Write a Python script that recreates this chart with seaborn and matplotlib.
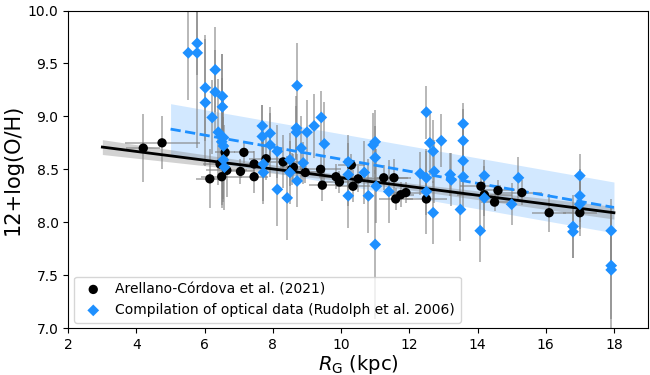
import numpy as np
import matplotlib
matplotlib.use("Agg")
import matplotlib.pyplot as plt
import seaborn as sns

# Arellano-Cordova et al. (2021)
ac_r = [4.2, 4.75, 6.15, 6.5, 6.45, 6.6, 6.65, 7.05, 7.15, 7.45, 7.45, 7.8, 8.3, 8.55,
        8.6, 8.95, 9.4, 9.45, 9.85, 9.95, 10.3, 10.35, 10.5, 11.25, 11.55, 11.6, 11.75,
        11.9, 12.5, 14.1, 14.2, 14.5, 14.6, 15.3, 16.1, 17.0]
ac_oh = [8.70, 8.75, 8.41, 8.43, 8.55, 8.66, 8.49, 8.48, 8.66, 8.55, 8.43, 8.60, 8.57, 8.50,
         8.52, 8.47, 8.50, 8.35, 8.43, 8.38, 8.54, 8.34, 8.41, 8.42, 8.42, 8.22, 8.26,
         8.28, 8.22, 8.34, 8.26, 8.19, 8.30, 8.28, 8.09, 8.09]
ac_oh_err = [0.32, 0.25, 0.28, 0.30, 0.15, 0.12, 0.25, 0.12, 0.10, 0.12, 0.15, 0.20, 0.25, 0.15,
             0.12, 0.10, 0.12, 0.15, 0.12, 0.10, 0.10, 0.15, 0.12, 0.12, 0.18, 0.10, 0.12,
             0.10, 0.15, 0.12, 0.20, 0.08, 0.10, 0.12, 0.18, 0.15]
ac_r_err = [0.5, 1.1, 0.4, 0.6, 0.5, 0.3, 0.6, 0.4, 0.3, 0.4, 0.4, 0.5, 0.6, 0.5,
            0.4, 0.5, 0.6, 0.4, 0.5, 0.6, 0.4, 0.5, 0.6, 0.7, 0.5, 0.5, 0.4,
            0.5, 0.6, 0.6, 0.8, 0.4, 0.5, 0.6, 0.5, 0.5]

# Rudolph et al. (2006) compilation
ru_r = [5.52, 5.78, 5.78, 6.31, 6.02, 6.31, 6.02, 6.52, 6.52, 6.22, 6.40, 6.55, 6.50, 6.55,
        6.55, 6.58, 7.69, 7.69, 7.92, 7.92, 8.13, 7.72, 7.72, 8.13, 8.42, 8.71, 8.69, 8.69,
        8.83, 8.89, 8.50, 8.50, 8.71, 9.00, 9.21, 9.42, 9.51, 10.21, 10.21, 10.21, 10.68,
        10.80, 10.94, 11.00, 11.00, 11.03, 11.00, 11.40, 12.32, 12.50, 12.60, 12.70, 12.94,
        12.73, 12.50, 12.50, 12.70, 13.20, 13.23, 13.50, 13.58, 13.58, 13.58, 13.58, 14.08,
        14.20, 14.20, 15.00, 15.20, 16.80, 16.80, 17.00, 17.00, 17.00, 17.92, 17.92, 17.92]
ru_oh = [9.60, 9.69, 9.60, 9.44, 9.27, 9.23, 9.13, 9.19, 9.09, 8.99, 8.85, 8.80, 8.76, 8.72,
         8.59, 8.52, 8.91, 8.81, 8.84, 8.73, 8.67, 8.55, 8.47, 8.31, 8.23, 9.29, 8.89, 8.85,
         8.70, 8.56, 8.59, 8.47, 8.39, 8.85, 8.91, 8.99, 8.74, 8.57, 8.45, 8.25, 8.47,
         8.25, 8.73, 8.76, 8.61, 8.34, 7.79, 8.29, 8.46, 9.04, 8.75, 8.67, 8.77,
         8.48, 8.42, 8.29, 8.09, 8.45, 8.40, 8.12, 8.93, 8.77, 8.58, 8.43, 7.92,
         8.44, 8.23, 8.17, 8.42, 7.96, 7.91, 8.44, 8.25, 8.17, 7.92, 7.59, 7.55]
ru_oh_err = [0.45, 0.30, 0.90, 0.40, 0.50, 0.40, 0.60, 0.40, 0.50, 0.35, 0.50, 0.40, 0.60, 0.50,
             0.40, 0.40, 0.20, 0.30, 0.25, 0.30, 0.25, 0.35, 0.30, 0.35, 0.40, 0.40, 0.30, 0.25,
             0.30, 0.20, 0.25, 0.30, 0.25, 0.30, 0.30, 0.25, 0.40, 0.25, 0.30, 0.30, 0.30,
             0.35, 0.30, 0.30, 0.30, 0.35, 0.70, 0.30, 0.20, 0.25, 0.30, 0.30, 0.25,
             0.30, 0.25, 0.40, 0.30, 0.20, 0.25, 0.30, 0.20, 0.30, 0.30, 0.30, 0.30,
             0.15, 0.30, 0.20, 0.20, 0.30, 0.25, 0.20, 0.25, 0.30, 0.30, 0.50, 0.60]

# fitted gradients
fit_r = [3.0, 10.5, 18.0]
ac_fit = [8.71, 8.40, 8.09]
ac_band = [0.07, 0.025, 0.06]
ru_fit_r = [5.0, 18.0]
ru_fit = [8.88, 8.14]
ru_band = [0.24, 0.24]

blue = "#1E90FF"

fig, ax = plt.subplots(figsize=(6.5, 3.75), dpi=100)
fig.subplots_adjust(left=0.105, right=0.997, top=0.972, bottom=0.125)

# bands and lines
rb = np.array(ru_band)
ax.fill_between(ru_fit_r, np.array(ru_fit) - rb, np.array(ru_fit) + rb,
                color=blue, alpha=0.2, lw=0, zorder=1)
ab = np.array(ac_band)
ax.fill_between(fit_r, np.array(ac_fit) - ab, np.array(ac_fit) + ab,
                color="gray", alpha=0.35, lw=0, zorder=1)

# error bars
ax.errorbar(ac_r, ac_oh, yerr=ac_oh_err, xerr=ac_r_err, fmt="none",
            ecolor="gray", alpha=0.6, elinewidth=1.3, zorder=2)
ax.errorbar(ru_r, ru_oh, yerr=ru_oh_err, fmt="none",
            ecolor="gray", alpha=0.6, elinewidth=1.3, zorder=2)

sns.lineplot(x=ru_fit_r, y=ru_fit, color=blue, lw=2, ls="--", ax=ax, zorder=3)
sns.lineplot(x=fit_r, y=ac_fit, color="black", lw=2, ax=ax, zorder=4)

sns.scatterplot(x=ac_r, y=ac_oh, color="black", marker="o", s=45, edgecolor="none",
                label="Arellano-Córdova et al. (2021)", ax=ax, zorder=5)
sns.scatterplot(x=ru_r, y=ru_oh, color=blue, marker="D", s=36, edgecolor="none",
                label="Compilation of optical data (Rudolph et al. 2006)", ax=ax, zorder=5)

ax.set_xlim(2, 19)
ax.set_ylim(7, 10)
ax.set_xticks(range(2, 19, 2))
ax.set_yticks(np.arange(7.0, 10.01, 0.5))
ax.tick_params(labelsize=10)
ax.set_xlabel(r"$R_{\rm G}$ (kpc)", fontsize=14, labelpad=1)
ax.set_ylabel("12+log(O/H)", fontsize=15)
ax.legend(loc="lower left", fontsize=10, handletextpad=0.6, borderaxespad=0.4)

fig.savefig("out.png", dpi=100)
